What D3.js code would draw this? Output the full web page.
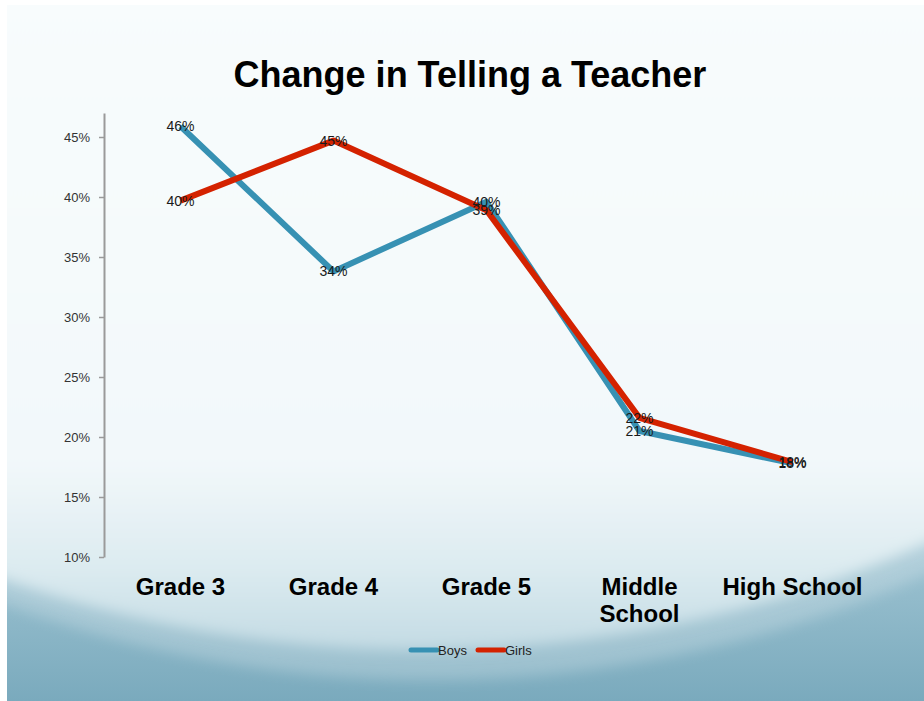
<!DOCTYPE html>
<html>
<head>
<meta charset="utf-8">
<script src="https://cdn.jsdelivr.net/npm/d3@7"></script>
<style>
  body { margin: 0; background: #fff; }
  svg { display: block; font-family: "Liberation Sans", Arial, sans-serif; }
</style>
</head>
<body>
<script>
var categories = ["Grade 3", "Grade 4", "Grade 5", "Middle School", "High School"];
var boys  = [45.9, 33.8, 39.6, 20.5, 17.8];
var girls = [39.7, 44.7, 38.9, 21.6, 17.9];
var yTicks = [10, 15, 20, 25, 30, 35, 40, 45];

var series = [
  {name: "Boys",  values: boys,  color: "#3791b3"},
  {name: "Girls", values: girls, color: "#d42200"}
];

var W = 924, H = 701;

var svg = d3.select("body").append("svg")
    .attr("width", W)
    .attr("height", H);

var defs = svg.append("defs");

var bgGrad = defs.append("linearGradient")
    .attr("id", "bg")
    .attr("gradientUnits", "userSpaceOnUse")
    .attr("x1", 0).attr("y1", 500).attr("x2", 0).attr("y2", 701);
bgGrad.append("stop").attr("offset", 0).attr("stop-color", "#a9cbd8");
bgGrad.append("stop").attr("offset", 1).attr("stop-color", "#7aaabd");

var glow = defs.append("linearGradient")
    .attr("id", "glow")
    .attr("gradientUnits", "userSpaceOnUse")
    .attr("x1", 0).attr("y1", 0).attr("x2", 0).attr("y2", 660);
glow.append("stop").attr("offset", 0).attr("stop-color", "#f8fcfd");
glow.append("stop").attr("offset", 0.7).attr("stop-color", "#f2f8fa");
glow.append("stop").attr("offset", 0.86).attr("stop-color", "#dcebf0");
glow.append("stop").attr("offset", 1).attr("stop-color", "#c0d9e2");

var blur = defs.append("filter").attr("id", "soft")
    .attr("x", "-10%").attr("y", "-10%").attr("width", "120%").attr("height", "120%");
blur.append("feGaussianBlur").attr("stdDeviation", 7);

// slide background
svg.append("rect")
    .attr("x", 7).attr("y", 5)
    .attr("width", W - 7).attr("height", H - 5)
    .attr("fill", "url(#bg)");

svg.append("ellipse")
    .attr("cx", 430).attr("cy", -320)
    .attr("rx", 1110).attr("ry", 1000)
    .attr("fill", "#ffffff").attr("opacity", 0.22)
    .attr("filter", "url(#soft)");

svg.append("ellipse")
    .attr("cx", 420).attr("cy", -300)
    .attr("rx", 1100).attr("ry", 950)
    .attr("fill", "url(#glow)")
    .attr("filter", "url(#soft)");

svg.append("rect")
    .attr("x", 0).attr("y", 0).attr("width", 7).attr("height", H)
    .attr("fill", "#fff");
svg.append("rect")
    .attr("x", 0).attr("y", 0).attr("width", W).attr("height", 5)
    .attr("fill", "#fff");

// title
svg.append("text")
    .attr("x", 470).attr("y", 87)
    .attr("text-anchor", "middle")
    .style("font-size", "36px")
    .style("font-weight", "bold")
    .style("fill", "#000")
    .text("Change in Telling a Teacher");

var x = d3.scaleBand()
    .domain(categories)
    .range([104, 869]);

var y = d3.scaleLinear()
    .domain([10, 47])
    .range([557, 113]);

var yAxis = svg.append("g")
    .attr("transform", "translate(104,0)")
    .call(d3.axisLeft(y)
      .tickValues(yTicks)
      .tickSize(5)
      .tickSizeOuter(0)
      .tickPadding(9)
      .tickFormat(function(d) { return d + "%"; }));

yAxis.select(".domain").attr("stroke", "#9a9a9a").attr("stroke-width", 2);
yAxis.selectAll(".tick line").attr("stroke", "#9a9a9a").attr("stroke-width", 1.5);
yAxis.selectAll(".tick text")
    .style("font-size", "13px")
    .style("font-family", "'Liberation Sans', Arial, sans-serif")
    .attr("fill", "#333");

// category labels
var catLabels = svg.append("g").selectAll("text")
    .data(categories)
  .enter().append("text")
    .attr("x", function(d) { return x(d) + x.bandwidth() / 2; })
    .attr("y", 595)
    .attr("text-anchor", "middle")
    .style("font-size", "24px")
    .style("font-weight", "bold")
    .style("fill", "#000");

catLabels.each(function(d) {
  var el = d3.select(this);
  var words = d === "Middle School" ? ["Middle", "School"] : [d];
  words.forEach(function(w, i) {
    el.append("tspan")
      .attr("x", x(d) + x.bandwidth() / 2)
      .attr("dy", i === 0 ? 0 : 27)
      .text(w);
  });
});

var line = d3.line()
    .x(function(d, i) { return x(categories[i]) + x.bandwidth() / 2; })
    .y(function(d) { return y(d); });

svg.append("g").selectAll("path")
    .data(series)
  .enter().append("path")
    .attr("d", function(s) { return line(s.values); })
    .attr("fill", "none")
    .attr("stroke", function(s) { return s.color; })
    .attr("stroke-width", 6)
    .attr("stroke-linejoin", "round");

// data labels
series.forEach(function(s) {
  svg.append("g").selectAll("text")
      .data(s.values)
    .enter().append("text")
      .attr("x", function(d, i) { return x(categories[i]) + x.bandwidth() / 2; })
      .attr("y", function(d) { return y(d); })
      .attr("dy", "0.36em")
      .attr("text-anchor", "middle")
      .style("font-size", "14px")
      .style("fill", "#1a1a1a")
      .text(function(d) { return Math.round(d) + "%"; });
});

// legend
var legend = svg.append("g").selectAll("g")
    .data(series)
  .enter().append("g")
    .attr("transform", function(d, i) { return "translate(" + (411 + i * 67) + ",650)"; });

legend.append("line")
    .attr("x1", 0).attr("x2", 26)
    .attr("stroke", function(d) { return d.color; })
    .attr("stroke-width", 5)
    .attr("stroke-linecap", "round");

legend.append("text")
    .attr("x", 27)
    .attr("dy", "0.35em")
    .style("font-size", "13px")
    .style("fill", "#222")
    .text(function(d) { return d.name; });
</script>
</body>
</html>
